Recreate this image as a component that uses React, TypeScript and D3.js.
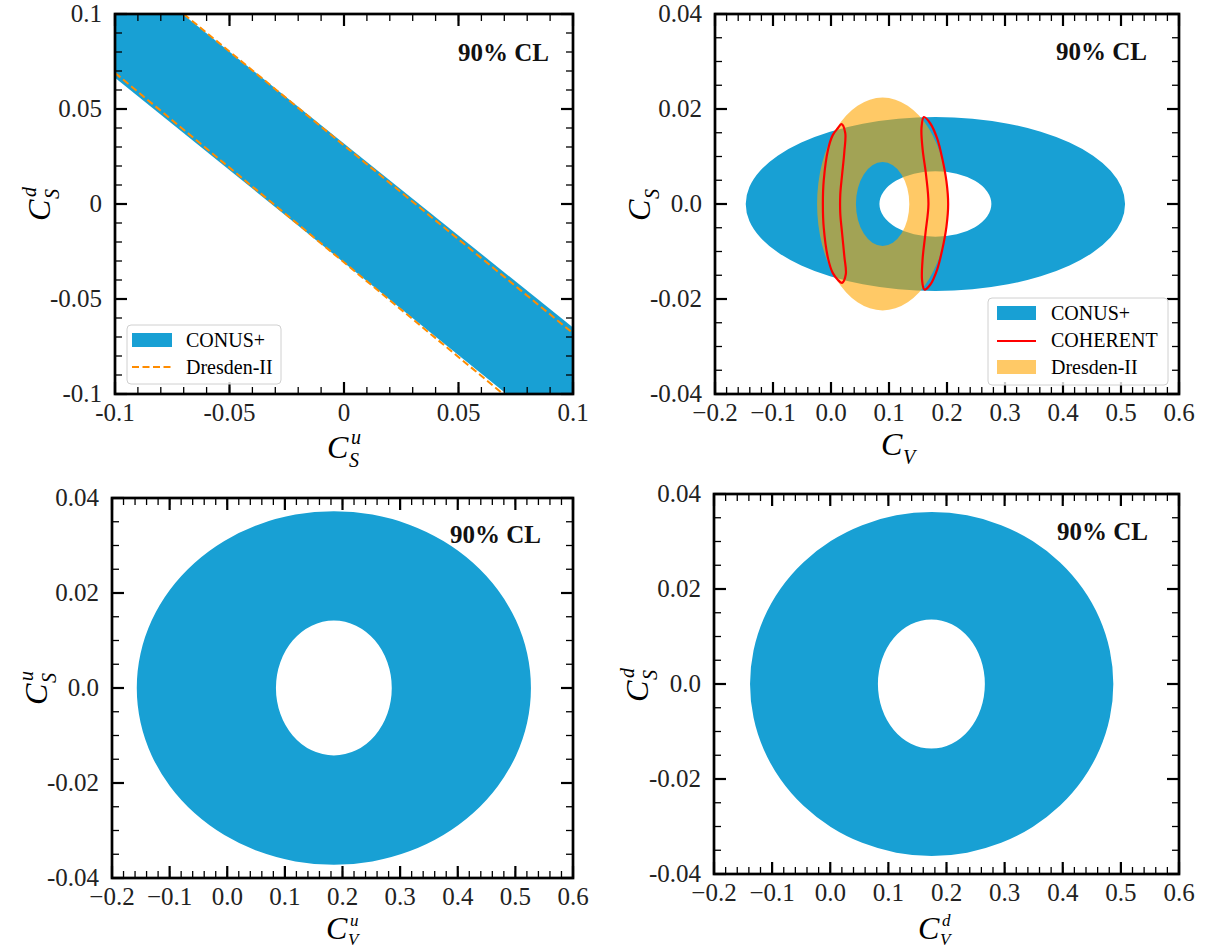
import React from "react";
import * as d3 from "d3";

// ---------- styles ----------
const BLUE = "#18a0d4";
const ORANGE_FILL = "#ffa500";
const ORANGE_LINE = "#ff8c00";
const RED = "#ff0000";
const FONT = "'Liberation Serif', 'DejaVu Serif', serif";

// ---------- tick data ----------
const scalarTicks = [-0.1, -0.05, 0, 0.05, 0.1];
const scalarTickLabels = ["-0.1", "-0.05", "0", "0.05", "0.1"];
const cvTicks = [-0.2, -0.1, 0.0, 0.1, 0.2, 0.3, 0.4, 0.5, 0.6];
const cvTickLabels = ["\u22120.2", "\u22120.1", "0.0", "0.1", "0.2", "0.3", "0.4", "0.5", "0.6"];
const csTicks = [0.04, 0.02, 0.0, -0.02, -0.04];
const csTickLabels = ["0.04", "0.02", "0.0", "-0.02", "-0.04"];

// ---------- panel (a): C_S^u vs C_S^d ----------
const conusBandU = [-0.1, -0.0705, 0.1, 0.1, 0.071, -0.1];
const conusBandD = [0.1, 0.1, -0.065, -0.1, -0.1, 0.0665];
const dresdenUpperU = [-0.07, 0.1];
const dresdenUpperD = [0.1, -0.068];
const dresdenLowerU = [-0.1, 0.0695];
const dresdenLowerD = [0.069, -0.1];

// ---------- panel (b): C_V vs C_S ----------
// rings: [center C_V, semi-axis in C_V, semi-axis in C_S] for outer and inner edge
const conusRingB = [
  [0.18, 0.327, 0.0183],
  [0.18, 0.0965, 0.0069],
];
const dresdenRingB = [
  [0.089, 0.113, 0.0224],
  [0.089, 0.046, 0.0088],
];
const coherentLeftCV = [0.018, 0.0245, 0.023, 0.019, 0.016, 0.016, 0.019, 0.023, 0.0255, 0.019, 0.012, 0.003, -0.005, -0.0125, -0.014, -0.0125, -0.005, 0.003, 0.012];
const coherentLeftCS = [0.0168, 0.015, 0.011, 0.006, 0.002, -0.002, -0.006, -0.011, -0.0148, -0.0166, -0.016, -0.0145, -0.0115, -0.005, 0.0, 0.005, 0.0115, 0.0145, 0.016];
const coherentRightCV = [0.16, 0.171, 0.183, 0.192, 0.199, 0.202, 0.199, 0.192, 0.183, 0.171, 0.161, 0.157, 0.158, 0.163, 0.168, 0.164, 0.158, 0.156];
const coherentRightCS = [0.0183, 0.017, 0.0138, 0.0095, 0.0048, 0.0, -0.0048, -0.0095, -0.0138, -0.017, -0.018, -0.016, -0.0115, -0.006, 0.0, 0.006, 0.0115, 0.016];

// ---------- panel (c): C_V^u vs C_S^u ----------
const conusRingC = [
  [0.185, 0.342, 0.0372],
  [0.185, 0.1005, 0.0142],
];
// ---------- panel (d): C_V^d vs C_S^d ----------
const conusRingD = [
  [0.1745, 0.3125, 0.0362],
  [0.174, 0.092, 0.0136],
];

type Box = { x0: number; x1: number; y0: number; y1: number };

function ellipsePath(xs: any, ys: any, e: number[]) {
  const cx = xs(e[0]);
  const cy = ys(0);
  const rx = Math.abs(xs(e[0] + e[1]) - cx);
  const ry = Math.abs(ys(e[2]) - cy);
  return `M${cx - rx},${cy}A${rx},${ry} 0 1 0 ${cx + rx},${cy}A${rx},${ry} 0 1 0 ${cx - rx},${cy}Z`;
}

function ringPath(xs: any, ys: any, ring: number[][]) {
  return ellipsePath(xs, ys, ring[0]) + ellipsePath(xs, ys, ring[1]);
}

function MathLabel({ x, y, sub, sup, rotate, subDy = 9, supDy = -14, scriptSize = 20 }: { x: number; y: number; sub: string; sup?: string; rotate?: boolean; subDy?: number; supDy?: number; scriptSize?: number }) {
  return (
    <g transform={`translate(${x},${y})${rotate ? " rotate(-90)" : ""}`} fontFamily={FONT} fontStyle="italic">
      <text x={-17} y={0} fontSize={32}>C</text>
      {sup && <text x={7} y={supDy} fontSize={scriptSize}>{sup}</text>}
      <text x={5} y={subDy} fontSize={scriptSize}>{sub}</text>
    </g>
  );
}

function Frame({ b, xs, ys, xMajor, xLabels, xMinor, yMajor, yLabels, yMinor, id, children }: any) {
  const MAJ = 12, MIN = 7;
  return (
    <g>
      <defs>
        <clipPath id={id}>
          <rect x={b.x0} y={b.y0} width={b.x1 - b.x0} height={b.y1 - b.y0} />
        </clipPath>
      </defs>
      <g clipPath={`url(#${id})`}>{children}</g>
      {xMinor.map((v: number, i: number) => (
        <g key={"xm" + i} stroke="#000" strokeWidth={1.3}>
          <line x1={xs(v)} x2={xs(v)} y1={b.y1} y2={b.y1 - MIN} />
          <line x1={xs(v)} x2={xs(v)} y1={b.y0} y2={b.y0 + MIN} />
        </g>
      ))}
      {yMinor.map((v: number, i: number) => (
        <g key={"ym" + i} stroke="#000" strokeWidth={1.3}>
          <line x1={b.x0} x2={b.x0 + MIN} y1={ys(v)} y2={ys(v)} />
          <line x1={b.x1} x2={b.x1 - MIN} y1={ys(v)} y2={ys(v)} />
        </g>
      ))}
      {xMajor.map((v: number, i: number) => (
        <g key={"xM" + i}>
          <line x1={xs(v)} x2={xs(v)} y1={b.y1} y2={b.y1 - MAJ} stroke="#000" strokeWidth={2.2} />
          <line x1={xs(v)} x2={xs(v)} y1={b.y0} y2={b.y0 + MAJ} stroke="#000" strokeWidth={2.2} />
          <text x={xs(v)} y={b.y1 + 27} textAnchor="middle" fontFamily={FONT} fontSize={25} fill="#222">
            {xLabels[i]}
          </text>
        </g>
      ))}
      {yMajor.map((v: number, i: number) => (
        <g key={"yM" + i}>
          <line x1={b.x0} x2={b.x0 + MAJ} y1={ys(v)} y2={ys(v)} stroke="#000" strokeWidth={2.2} />
          <line x1={b.x1} x2={b.x1 - MAJ} y1={ys(v)} y2={ys(v)} stroke="#000" strokeWidth={2.2} />
          <text x={b.x0 - 13} y={ys(v) + 8} textAnchor="end" fontFamily={FONT} fontSize={25} fill="#222">
            {yLabels[i]}
          </text>
        </g>
      ))}
      <rect x={b.x0} y={b.y0} width={b.x1 - b.x0} height={b.y1 - b.y0} fill="none" stroke="#000" strokeWidth={2.7} />
    </g>
  );
}

function CL({ x, y }: { x: number; y: number }) {
  return (
    <text x={x} y={y} textAnchor="end" fontFamily={FONT} fontWeight="bold" fontSize={25} fill="#111">
      90% CL
    </text>
  );
}

export default function App() {
  // Panel A
  const bA: Box = { x0: 115, x1: 573, y0: 14, y1: 394 };
  const xA = d3.scaleLinear().domain([-0.1, 0.1]).range([bA.x0, bA.x1]);
  const yA = d3.scaleLinear().domain([-0.1, 0.1]).range([bA.y1, bA.y0]);
  const minorA = d3.range(-10, 11).map((k) => k / 100);
  const band = conusBandU.map((u, i) => [xA(u), yA(conusBandD[i])] as [number, number]);
  const lineGen = d3.line<[number, number]>();
  const upper = dresdenUpperU.map((u, i) => [xA(u), yA(dresdenUpperD[i])] as [number, number]);
  const lower = dresdenLowerU.map((u, i) => [xA(u), yA(dresdenLowerD[i])] as [number, number]);

  // Panel B
  const bB: Box = { x0: 715, x1: 1179, y0: 14, y1: 394 };
  const xB = d3.scaleLinear().domain([-0.2, 0.6]).range([bB.x0, bB.x1]);
  const yB = d3.scaleLinear().domain([-0.04, 0.04]).range([bB.y1, bB.y0]);
  const cvMinor = d3.range(-10, 31).map((k) => k / 50);
  const csMinor = d3.range(-8, 9).map((k) => k / 200);
  const closed = d3.line<[number, number]>().curve(d3.curveCatmullRomClosed.alpha(0.5));
  const cohL = coherentLeftCV.map((v, i) => [xB(v), yB(coherentLeftCS[i])] as [number, number]);
  const cohR = coherentRightCV.map((v, i) => [xB(v), yB(coherentRightCS[i])] as [number, number]);

  // Panel C
  const bC: Box = { x0: 112, x1: 573, y0: 498, y1: 878 };
  const xC = d3.scaleLinear().domain([-0.2, 0.6]).range([bC.x0, bC.x1]);
  const yC = d3.scaleLinear().domain([-0.04, 0.04]).range([bC.y1, bC.y0]);

  // Panel D
  const bD: Box = { x0: 714, x1: 1179, y0: 494, y1: 874 };
  const xD = d3.scaleLinear().domain([-0.2, 0.6]).range([bD.x0, bD.x1]);
  const yD = d3.scaleLinear().domain([-0.04, 0.04]).range([bD.y1, bD.y0]);

  return (
    <svg
      width={1205}
      height={949}
      style={{ position: "absolute", left: 0, top: 0, background: "#fff" }}
      xmlns="http://www.w3.org/2000/svg"
    >
      <rect x={0} y={0} width={1205} height={949} fill="#fff" />

      {/* Panel A */}
      <Frame
        id="clipA" b={bA} xs={xA} ys={yA}
        xMajor={scalarTicks} xLabels={scalarTickLabels} xMinor={minorA}
        yMajor={scalarTicks} yLabels={scalarTickLabels} yMinor={minorA}
      >
        <path d={lineGen(band) + "Z"} fill={BLUE} />
        <path d={lineGen(upper) || ""} fill="none" stroke={ORANGE_LINE} strokeWidth={2} strokeDasharray="7,3.5" />
        <path d={lineGen(lower) || ""} fill="none" stroke={ORANGE_LINE} strokeWidth={2} strokeDasharray="7,3.5" />
      </Frame>
      <CL x={549} y={61} />
      <g fontFamily={FONT} fontSize={20}>
        <rect x={127} y={325} width={154} height={59} rx={4} fill="#fff" fillOpacity={0.8} stroke="#d0d0d0" strokeWidth={1} />
        <rect x={132} y={333} width={40} height={14} fill={BLUE} />
        <text x={186} y={347}>CONUS+</text>
        <line x1={132} x2={172} y1={367} y2={367} stroke={ORANGE_LINE} strokeWidth={2} strokeDasharray="7,3.5" />
        <text x={186} y={374}>Dresden-II</text>
      </g>
      <MathLabel x={344} y={458} sub="S" sup="u" />
      <MathLabel x={50} y={204} sub="S" sup="d" rotate />

      {/* Panel B */}
      <Frame
        id="clipB" b={bB} xs={xB} ys={yB}
        xMajor={cvTicks} xLabels={cvTickLabels} xMinor={cvMinor}
        yMajor={csTicks} yLabels={csTickLabels} yMinor={csMinor}
      >
        <path d={ringPath(xB, yB, conusRingB)} fill={BLUE} fillRule="evenodd" />
        <path d={ringPath(xB, yB, dresdenRingB)} fill={ORANGE_FILL} fillOpacity={0.6} fillRule="evenodd" />
        <path d={closed(cohL) || ""} fill="none" stroke={RED} strokeWidth={2.2} />
        <path d={closed(cohR) || ""} fill="none" stroke={RED} strokeWidth={2.2} />
      </Frame>
      <CL x={1147} y={60} />
      <g fontFamily={FONT} fontSize={20}>
        <rect x={988} y={298} width={180} height={87} rx={4} fill="#fff" fillOpacity={0.8} stroke="#d0d0d0" strokeWidth={1} />
        <rect x={997} y={306} width={39} height={14} fill={BLUE} />
        <text x={1051} y={320}>CONUS+</text>
        <line x1={997} x2={1036} y1={341} y2={341} stroke={RED} strokeWidth={2.2} />
        <text x={1051} y={347}>COHERENT</text>
        <rect x={997} y={360} width={39} height={14} fill={ORANGE_FILL} fillOpacity={0.6} />
        <text x={1051} y={374}>Dresden-II</text>
      </g>
      <MathLabel x={898} y={455} sub="V" />
      <MathLabel x={650} y={204} sub="S" rotate />

      {/* Panel C */}
      <Frame
        id="clipC" b={bC} xs={xC} ys={yC}
        xMajor={cvTicks} xLabels={cvTickLabels} xMinor={cvMinor}
        yMajor={csTicks} yLabels={csTickLabels} yMinor={csMinor}
      >
        <path d={ringPath(xC, yC, conusRingC)} fill={BLUE} fillRule="evenodd" />
      </Frame>
      <CL x={541} y={543} />
      <MathLabel x={343} y={939} sub="V" sup="u" subDy={6} supDy={-13} scriptSize={17} />
      <MathLabel x={47} y={688} sub="S" sup="u" rotate />

      {/* Panel D */}
      <Frame
        id="clipD" b={bD} xs={xD} ys={yD}
        xMajor={cvTicks} xLabels={cvTickLabels} xMinor={cvMinor}
        yMajor={csTicks} yLabels={csTickLabels} yMinor={csMinor}
      >
        <path d={ringPath(xD, yD, conusRingD)} fill={BLUE} fillRule="evenodd" />
      </Frame>
      <CL x={1148} y={540} />
      <MathLabel x={935} y={939} sub="V" sup="d" subDy={6} supDy={-13} scriptSize={17} />
      <MathLabel x={648} y={685} sub="S" sup="d" rotate />
    </svg>
  );
}
